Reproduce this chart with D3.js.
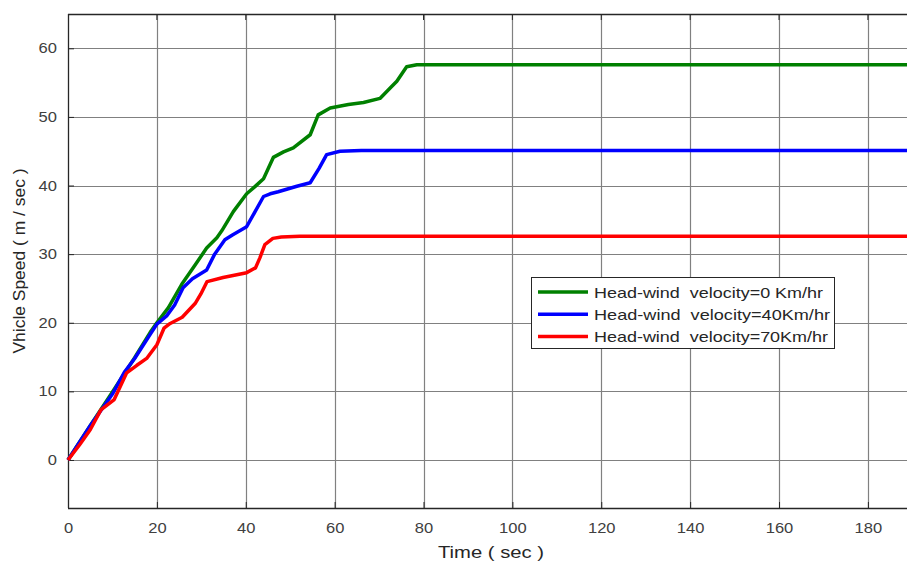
<!DOCTYPE html>
<html>
<head>
<meta charset="utf-8">
<script src="https://cdn.jsdelivr.net/npm/d3@7"></script>
<style>
  html, body { margin: 0; padding: 0; background: #fff; }
  svg { display: block; }
  text { font-family: "Liberation Sans", Arial, sans-serif; }
</style>
</head>
<body>
<svg id="chart" width="907" height="563"></svg>
<script>
// ---- data ----
const xTicks = [0, 20, 40, 60, 80, 100, 120, 140, 160, 180];
const yTicks = [0, 10, 20, 30, 40, 50, 60];

const seriesNames = [
  "Head-wind  velocity=0 Km/hr",
  "Head-wind  velocity=40Km/hr",
  "Head-wind  velocity=70Km/hr"
];
const seriesColors = ["#008000", "#0000ff", "#ff0000"];

const timeWind0 = [0, 5, 10, 15, 18.5, 20, 22.6, 25.6, 28.6, 31.2, 33.5, 34.6, 37.2, 40.2, 42.0, 44.0, 46.2, 48.5, 50.7, 54.5, 56.3, 59.0, 63.1, 66.5, 70.2, 72.5, 74.0, 76.2, 78.5, 85, 189];
const speedWind0 = [0, 5.0, 9.9, 14.9, 18.6, 20.0, 22.2, 25.6, 28.4, 30.9, 32.4, 33.4, 36.2, 38.8, 39.8, 41.0, 44.1, 44.9, 45.5, 47.4, 50.3, 51.3, 51.8, 52.1, 52.7, 54.2, 55.2, 57.3, 57.6, 57.6, 57.6];

const timeWind40 = [0, 5, 10, 12.8, 15, 18.5, 20, 22.2, 24, 25.9, 28, 31.2, 33, 35.3, 37, 40.2, 42.1, 44.0, 45.5, 47.3, 51.5, 54.5, 56.5, 58.2, 61.2, 66, 189];
const speedWind40 = [0, 5.0, 9.6, 12.9, 14.8, 18.3, 19.8, 21.0, 22.6, 25.1, 26.4, 27.7, 30.0, 32.1, 32.8, 34.0, 36.2, 38.4, 38.8, 39.1, 39.9, 40.4, 42.5, 44.5, 45.0, 45.1, 45.1];

const timeWind70 = [0, 2.7, 5, 7.4, 10.4, 13.2, 15.5, 17.7, 20.0, 21.6, 23, 25.7, 28.6, 29.9, 31.3, 34.9, 40.2, 42.2, 43.2, 44.3, 46.1, 48, 52.2, 60, 189];
const speedWind70 = [0, 2.3, 4.4, 7.3, 8.8, 12.7, 13.8, 14.8, 16.8, 19.2, 19.9, 20.8, 22.8, 24.2, 26.0, 26.6, 27.3, 28.0, 29.5, 31.4, 32.3, 32.5, 32.6, 32.6, 32.6];

const seriesTimes = [timeWind0, timeWind40, timeWind70];
const seriesSpeeds = [speedWind0, speedWind40, speedWind70];

// ---- layout ----
const svg = d3.select("#chart");
const pLeft = 68, pRight = 907, pTop = 14, pBottom = 508;

const x = d3.scaleLinear().domain([0, 188.8]).range([pLeft, pRight]);
const y = d3.scaleLinear().domain([-7, 65]).range([pBottom, pTop]);

const g = svg.append("g");

// grid
g.append("g").selectAll("line").data(xTicks.filter(d => d > 0)).join("line")
  .attr("x1", d => Math.round(x(d)) + 0.5).attr("x2", d => Math.round(x(d)) + 0.5)
  .attr("y1", pTop).attr("y2", pBottom)
  .attr("stroke", "#808080").attr("stroke-width", 1.2);
g.append("g").selectAll("line").data(yTicks).join("line")
  .attr("x1", pLeft).attr("x2", pRight)
  .attr("y1", d => Math.round(y(d)) + 0.5).attr("y2", d => Math.round(y(d)) + 0.5)
  .attr("stroke", "#808080").attr("stroke-width", 1.2);

// axes
const xAxis = d3.axisBottom(x).tickValues(xTicks).tickSize(-6).tickPadding(15).tickFormat(d3.format("d"));
const yAxis = d3.axisLeft(y).tickValues(yTicks).tickSize(-6).tickPadding(11).tickFormat(d3.format("d"));

const gx = g.append("g").attr("transform", `translate(0,${pBottom})`).call(xAxis);
const gy = g.append("g").attr("transform", `translate(${pLeft},0)`).call(yAxis);
[gx, gy].forEach(a => {
  a.select(".domain").attr("stroke", "#262626").attr("stroke-width", 1.3);
  a.selectAll(".tick line").attr("stroke", "#262626");
  a.selectAll(".tick text").attr("fill", "#404040").style("font-size", "14px")
    .style("font-family", "'Liberation Sans', Arial, sans-serif")
    .attr("textLength", d => String(d).length * 9.2)
    .attr("lengthAdjust", "spacingAndGlyphs");
});
gy.select(".domain").attr("d", `M0.5,${pBottom}V${pTop}`);
gx.select(".domain").attr("d", `M${pLeft},0.5H${pRight}`);

// top border with ticks
g.append("line").attr("x1", pLeft).attr("x2", pRight).attr("y1", pTop + 0.5).attr("y2", pTop + 0.5)
  .attr("stroke", "#262626").attr("stroke-width", 1.3);
g.append("g").selectAll("line").data(xTicks.filter(d => d > 0)).join("line")
  .attr("x1", d => x(d)).attr("x2", d => x(d))
  .attr("y1", pTop).attr("y2", pTop + 6).attr("stroke", "#262626");

// lines
const line = d3.line().x(d => x(d[0])).y(d => y(d[1])).curve(d3.curveLinear);
seriesTimes.forEach((ts, i) => {
  const pts = ts.map((t, j) => [t, seriesSpeeds[i][j]]);
  g.append("path").datum(pts)
    .attr("fill", "none").attr("stroke", seriesColors[i])
    .attr("stroke-width", 3.5).attr("stroke-linejoin", "round")
    .attr("d", line);
});

// axis labels
svg.append("text").attr("x", 491).attr("y", 558).attr("text-anchor", "middle")
  .attr("fill", "#262626").style("font-size", "17px")
  .attr("textLength", 106).attr("lengthAdjust", "spacingAndGlyphs")
  .text("Time ( sec )");
svg.append("text").attr("transform", `translate(25,${(pTop + pBottom) / 2}) rotate(-90)`)
  .attr("text-anchor", "middle").attr("fill", "#262626").style("font-size", "17px")
  .attr("textLength", 185).attr("lengthAdjust", "spacingAndGlyphs")
  .text("Vhicle Speed ( m / sec )");

// legend
const lg = svg.append("g");
lg.append("rect").attr("x", 531.5).attr("y", 277.5).attr("width", 303).attr("height", 71)
  .attr("fill", "#fff").attr("stroke", "#262626").attr("stroke-width", 1);
const legendWidths = [229, 236, 234];
seriesNames.forEach((name, i) => {
  const ly = 292 + i * 22.3;
  lg.append("line").attr("x1", 538).attr("x2", 588).attr("y1", ly).attr("y2", ly)
    .attr("stroke", seriesColors[i]).attr("stroke-width", 3.5);
  lg.append("text").attr("x", 594).attr("y", ly + 5.5).attr("fill", "#262626")
    .style("font-size", "15px").style("white-space", "pre")
    .attr("textLength", legendWidths[i]).attr("lengthAdjust", "spacingAndGlyphs")
    .text(name);
});
</script>
</body>
</html>
